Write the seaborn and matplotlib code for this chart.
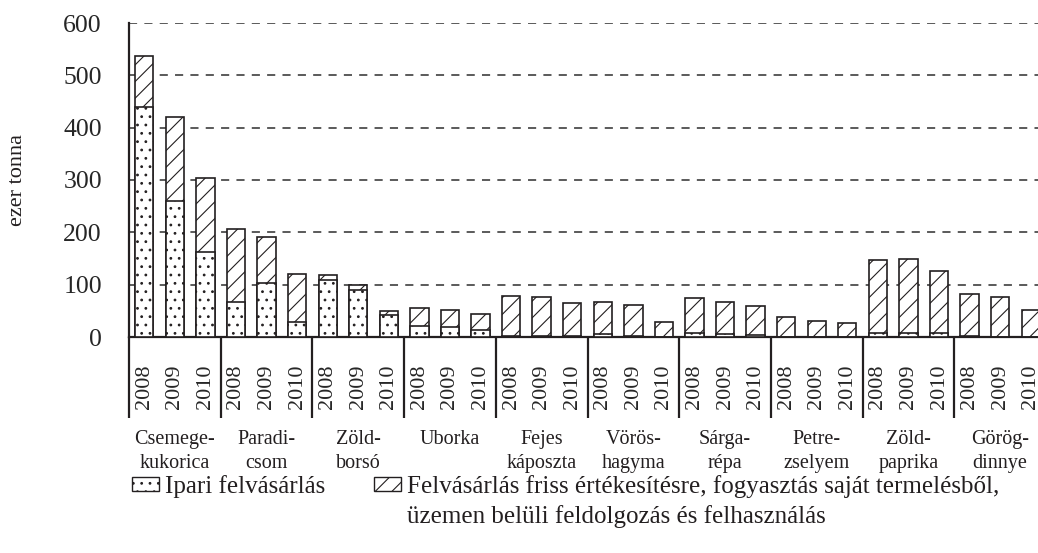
import numpy as np
import pandas as pd
import seaborn as sns
import matplotlib.pyplot as plt
import matplotlib.transforms as mtransforms
from matplotlib.patches import Patch

# data (ezer tonna)
crops = ["Csemege-\nkukorica", "Paradi-\ncsom", "Zöld-\nborsó", "Uborka", "Fejes\nkáposzta",
         "Vörös-\nhagyma", "Sárga-\nrépa", "Petre-\nzselyem", "Zöld-\npaprika", "Görög-\ndinnye"]
years = ["2008", "2009", "2010"]
ipari = [440, 259, 162, 66, 103, 29, 108, 89, 42, 21, 20, 14,
         2, 2, 1, 5, 1, 0, 7, 5, 4, 0, 0, 0, 7, 8, 7, 1, 0, 0]
total = [537, 421, 303, 206, 192, 120, 118, 99, 49, 56, 52, 43,
         79, 76, 65, 67, 61, 28, 75, 66, 59, 39, 31, 27, 148, 149, 126, 82, 76, 52]

ink = "#231f20"
df = pd.DataFrame({
    "id": [f"{c} {y}" for c in crops for y in years],
    "ev": [y for c in crops for y in years],
    "ipari": ipari,
    "total": total,
})

sns.set_style("white")
plt.rcParams["font.family"] = ["Liberation Serif", "DejaVu Serif"]
plt.rcParams["hatch.linewidth"] = 0.8
plt.rcParams["hatch.color"] = ink
plt.rcParams["text.color"] = ink

fig = plt.figure(figsize=(10.38, 5.53), dpi=100)
ax = fig.add_axes([129 / 1038, 216 / 553, 917 / 1038, 314 / 553])

# total bar hatched, industrial part drawn on top with dots
sns.barplot(data=df, x="id", y="total", color="white", edgecolor=ink, linewidth=1.2,
            width=0.6, hatch="//", ax=ax, zorder=3)
sns.barplot(data=df, x="id", y="ipari", color="white", edgecolor=ink, linewidth=1.2,
            width=0.6, hatch="..", ax=ax, zorder=4)

ax.set_ylim(0, 600)
ax.set_xlim(-0.5, len(df) - 0.5)
ax.set_yticks(range(0, 601, 100))
ax.yaxis.grid(True, color="#4d4d4d", linestyle=(0, (4.5, 4)), linewidth=1.3, zorder=0)
ax.set_axisbelow(True)
sns.despine(ax=ax, top=True, right=True)
for s in ["left", "bottom"]:
    ax.spines[s].set_linewidth(1.6)
    ax.spines[s].set_color(ink)

ax.set_xlabel("")
ax.set_ylabel("")
ax.set_xticks(range(len(df)))
ax.set_xticklabels(df["ev"], rotation=90, fontsize=16)
ax.tick_params(axis="x", which="major", length=0, pad=20)
ax.set_xticks(np.arange(0.5, len(df) - 1, 1), minor=True)
ax.tick_params(axis="x", which="minor", length=9.5, width=1.6, color=ink, direction="out")
ax.tick_params(axis="y", length=9.5, width=1.6, color=ink, labelsize=18.5, pad=10,
               direction="out")

# group separators and crop names under the axis
trans = mtransforms.blended_transform_factory(ax.transData, ax.transAxes)
for g in range(len(crops) + 1):
    ax.plot([g * 3 - 0.5, g * 3 - 0.5], [0, -0.258], transform=trans, color=ink,
            lw=1.6, clip_on=False, solid_capstyle="butt")
for g, c in enumerate(crops):
    ax.text(g * 3 + 1, -0.295, c, transform=trans, ha="center", va="top",
            fontsize=14.5, linespacing=1.38)

fig.text(18 / 1038, 1 - 180 / 553, "ezer tonna", rotation=90, ha="center", va="center",
         fontsize=16)

# legend: second text wraps onto a row with an empty handle
handles = [Patch(facecolor="white", edgecolor=ink, hatch="..", linewidth=1),
           Patch(facecolor="none", edgecolor="none"),
           Patch(facecolor="white", edgecolor=ink, hatch="//", linewidth=1),
           Patch(facecolor="none", edgecolor="none")]
labels = ["Ipari felvásárlás", "",
          "Felvásárlás friss értékesítésre, fogyasztás saját termelésből,",
          "üzemen belüli feldolgozás és felhasználás"]
fig.legend(handles, labels, ncol=2, loc="upper left", bbox_to_anchor=(132 / 1038, 1 - 475 / 553),
           frameon=False, fontsize=18, handlelength=1.08, handleheight=0.48,
           handletextpad=0.24, columnspacing=1.96, labelspacing=0.28, borderaxespad=0,
           borderpad=0)

fig.savefig("out.png", dpi=100)
